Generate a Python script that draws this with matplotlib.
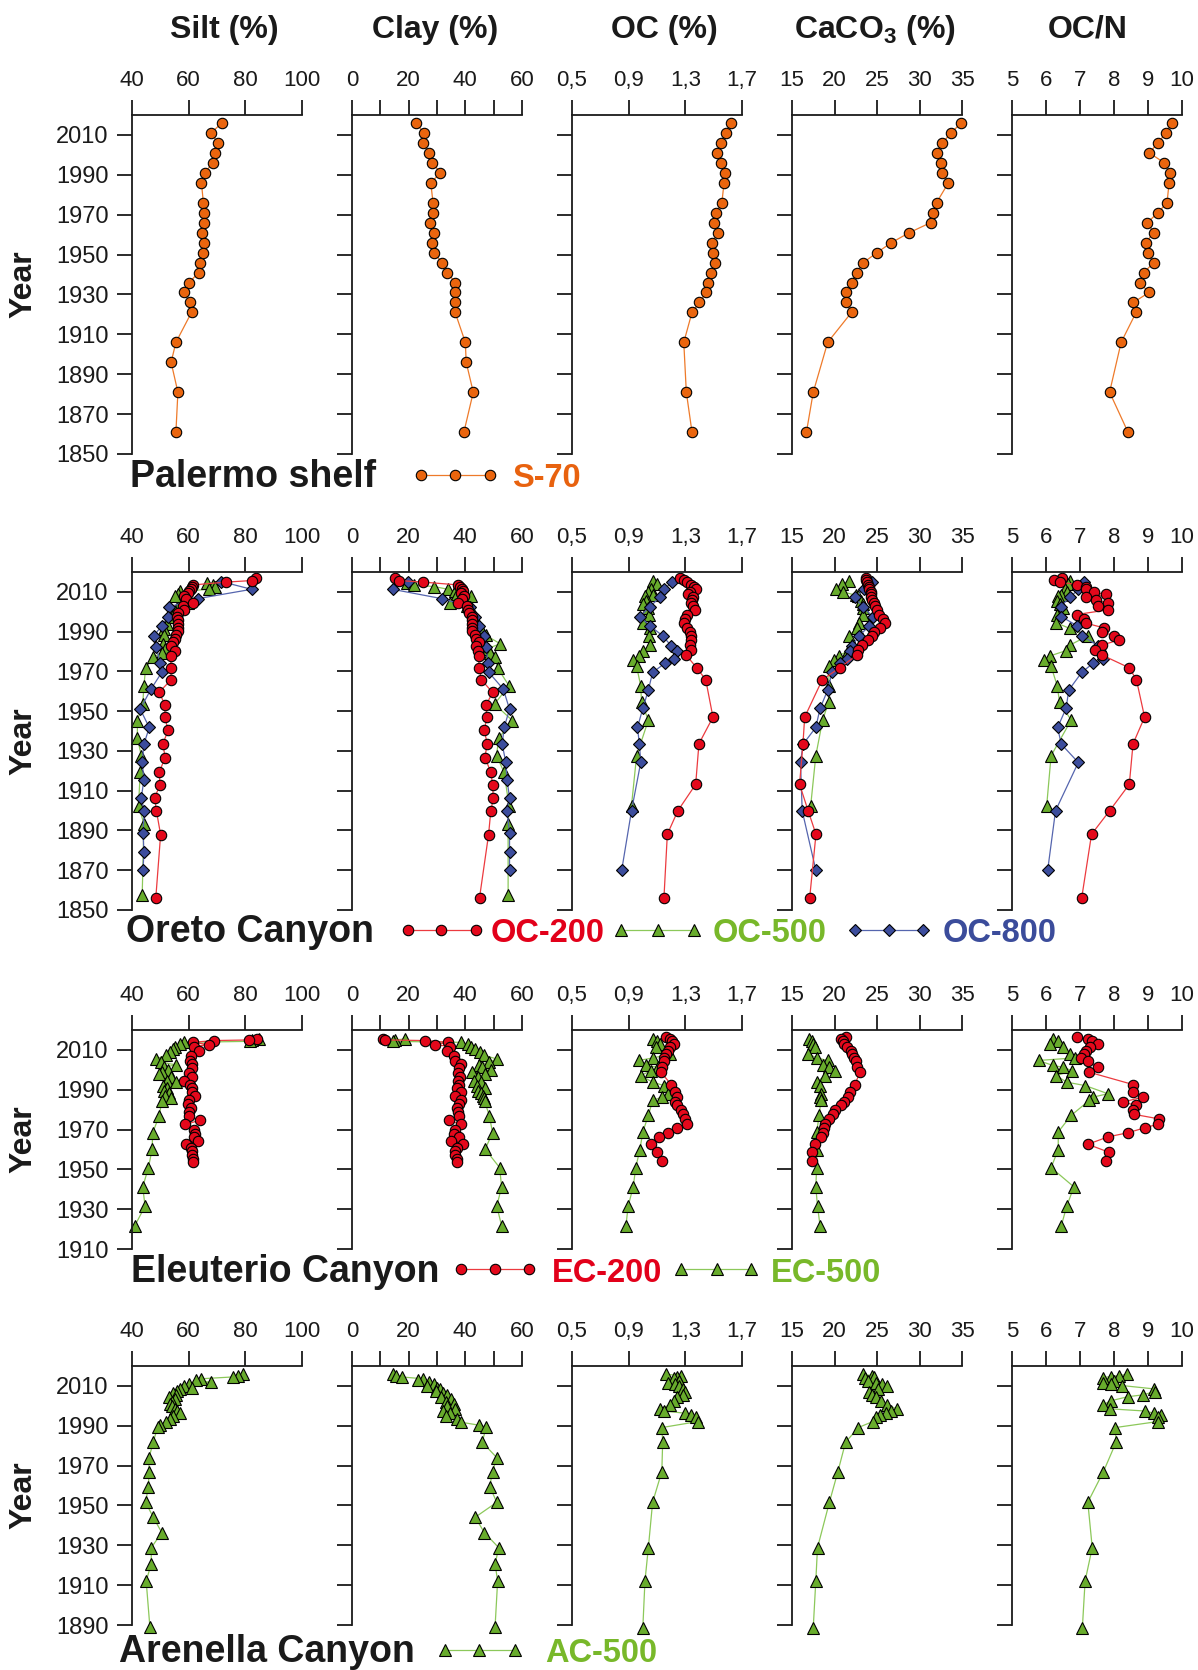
import matplotlib
matplotlib.use("Agg")
import matplotlib.pyplot as plt
from matplotlib.lines import Line2D

plt.rcParams['font.family'] = ['Liberation Sans', 'DejaVu Sans']

W, H = 1198, 1670

# Palermo shelf, S-70
s70_grain_years = [2016, 2011, 2006, 2001, 1996, 1991, 1986, 1976, 1971, 1966, 1961, 1956,
                   1951, 1946, 1941, 1936, 1931, 1926, 1921, 1906, 1896, 1881, 1861]
s70_silt = [71.7, 67.9, 70.3, 69.3, 68.6, 65.6, 64.5, 65.2, 65.3, 65.5, 64.7, 65.5,
            65.0, 64.1, 63.6, 60.1, 58.3, 60.5, 61.0, 55.5, 53.8, 56.2, 55.5]
s70_clay = [22.5, 25.5, 25.2, 27.3, 28.4, 31.2, 27.8, 28.6, 28.5, 27.4, 28.8, 28.4,
            28.9, 31.8, 33.7, 36.4, 36.4, 36.2, 36.4, 40.0, 40.3, 42.8, 39.5]
s70_geo_years = [2016, 2011, 2006, 2001, 1996, 1991, 1986, 1976, 1971, 1966, 1961,
                 1956, 1951, 1946, 1941, 1936, 1931, 1926, 1921, 1906, 1881, 1861]
s70_oc = [1.619, 1.590, 1.550, 1.527, 1.550, 1.579, 1.573, 1.558, 1.518, 1.501, 1.530,
          1.489, 1.498, 1.509, 1.480, 1.460, 1.448, 1.399, 1.347, 1.289, 1.307, 1.347]
s70_caco3 = [34.9, 33.7, 32.7, 32.0, 32.5, 32.7, 33.4, 32.0, 31.6, 31.3, 28.8,
             26.7, 25.0, 23.4, 22.6, 22.0, 21.3, 21.4, 22.0, 19.2, 17.5, 16.7]
s70_ocn = [9.71, 9.53, 9.29, 9.04, 9.48, 9.66, 9.62, 9.56, 9.29, 8.98, 9.17,
           8.93, 8.99, 9.17, 8.88, 8.75, 9.03, 8.57, 8.65, 8.21, 7.87, 8.41]

# Oreto Canyon, OC-200
oc200_grain_years = [2016.9, 2015.7, 2014.9, 2013.5, 2012.5, 2011.3, 2010.3, 2009.3, 2007.7, 2006.3,
                     2004.5, 2002.8, 2000.8, 1999.4, 1997.6, 1995.8, 1993.9, 1991.9, 1990.2, 1988.2,
                     1986.2, 1984.7, 1982.9, 1980.4, 1978.0, 1971.8, 1965.8, 1959.4, 1953.0, 1946.9,
                     1940.5, 1933.6, 1926.6, 1919.4, 1913.0, 1906.5, 1900.0, 1887.9, 1856.1]
oc200_silt = [83.9, 82.2, 73.1, 61.6, 61.1, 60.7, 60.2, 59.7, 58.5, 59.2,
              61.4, 57.9, 58.4, 56.4, 55.9, 56.1, 56.2, 56.2, 56.1, 55.6,
              55.0, 54.6, 53.6, 55.3, 53.7, 53.8, 53.8, 49.5, 51.8, 51.5,
              52.8, 50.9, 51.7, 49.6, 49.9, 48.0, 48.6, 50.1, 48.4]
oc200_clay = [15.0, 16.6, 25.2, 37.5, 38.1, 38.7, 39.2, 38.4, 39.7, 38.7,
              37.5, 40.6, 41.0, 41.4, 42.2, 42.5, 42.5, 42.2, 42.2, 43.5,
              43.9, 44.8, 43.9, 44.4, 44.8, 44.8, 45.7, 49.6, 47.3, 47.6,
              46.7, 47.7, 46.9, 49.0, 49.6, 49.9, 49.0, 48.2, 45.0]
oc200_geo_years = [2016.9, 2015.9, 2014.9, 2013.7, 2012.5, 2011.2, 2009.8, 2008.7, 2007.3, 2006.0,
                   2004.5, 2002.8, 2001.0, 1998.6, 1996.4, 1994.3, 1991.9, 1989.9, 1987.9, 1985.8,
                   1983.2, 1980.7, 1978.3, 1971.8, 1965.8, 1947.0, 1933.6, 1913.2, 1899.9, 1888.1,
                   1856.1]
oc200_oc = [1.262, 1.289, 1.313, 1.337, 1.361, 1.373, 1.331, 1.319, 1.355, 1.349,
            1.343, 1.355, 1.367, 1.313, 1.295, 1.289, 1.313, 1.334, 1.340, 1.343,
            1.334, 1.340, 1.304, 1.381, 1.444, 1.495, 1.396, 1.373, 1.247, 1.173,
            1.149]
oc200_caco3 = [23.76, 23.76, 23.81, 23.9, 24.0, 24.1, 24.26, 24.3, 24.35, 24.4,
               24.6, 24.75, 25.0, 25.25, 25.74, 25.94, 25.35, 24.6, 24.36, 23.9,
               23.27, 22.72, 22.67, 20.6, 18.56, 16.49, 16.29, 15.89, 16.9, 17.82,
               17.08]
oc200_ocn = [6.48, 6.24, 6.40, 6.90, 7.17, 7.17, 7.42, 7.77, 7.17, 7.46,
             7.83, 7.54, 7.83, 6.90, 7.12, 7.17, 7.70, 7.64, 8.01, 8.14,
             7.64, 7.44, 7.64, 8.45, 8.66, 8.90, 8.56, 8.45, 7.87, 7.34,
             7.05]

# Oreto Canyon, OC-500
oc500_grain_years = [2014.4, 2013.4, 2012.7, 2011.3, 2010.2, 2009.0, 2008.0, 2005.8, 2004.3, 2003.0,
                     2002.0, 2000.5, 1997.6, 1993.8, 1991.2, 1988.2, 1983.9, 1981.5, 1979.5, 1977.0,
                     1971.5, 1962.8, 1953.6, 1945.3, 1936.5, 1927.6, 1919.2, 1902.5, 1893.3, 1857.6]
oc500_silt = [66.6, 68.5, 69.2, 67.0, 56.9, 56.2, 55.3, 58.8, 59.7, 58.1,
              55.9, 55.2, 53.4, 52.4, 51.4, 51.2, 50.9, 51.7, 50.5, 47.4,
              44.8, 44.2, 43.8, 41.9, 41.9, 43.3, 42.9, 42.3, 44.2, 43.6]
oc500_clay = [19.4, 21.8, 28.9, 33.9, 36.4, 37.0, 42.0, 39.7, 34.7, 40.6,
              41.8, 42.4, 42.8, 44.4, 45.5, 47.2, 52.3, 47.9, 48.7, 50.5,
              51.5, 55.4, 50.3, 56.6, 51.8, 51.0, 53.7, 55.4, 55.1, 55.1]
oc500_geo_years = [2015.5, 2013.9, 2011.3, 2010.0, 2008.3, 2007.7, 2005.5, 2003.8, 2002.1, 1998.3,
                   1994.6, 1991.6, 1987.9, 1983.2, 1980.4, 1977.8, 1975.8, 1972.5, 1962.8, 1954.4,
                   1945.5, 1927.6, 1902.5]
oc500_oc = [1.069, 1.099, 1.060, 1.039, 1.075, 1.015, 1.021, 1.000, 1.039, 1.045,
            1.000, 1.051, 1.045, 1.051, 1.000, 0.970, 0.932, 0.956, 0.985, 0.991,
            1.039, 0.956, 0.920]
oc500_caco3 = [21.7, 20.9, 20.2, 21.0, 22.5, 22.8, 23.1, 23.4, 23.3, 23.3,
               22.9, 22.6, 21.7, 22.1, 21.6, 20.5, 19.9, 19.4, 19.3, 19.3,
               18.6, 17.8, 17.2]
oc500_ocn = [6.70, 6.65, 6.55, 6.61, 6.43, 6.36, 6.33, 6.40, 6.49, 6.33,
             6.28, 6.70, 7.23, 6.70, 6.58, 6.12, 5.93, 6.15, 6.33, 6.40,
             6.74, 6.15, 6.02]

# Oreto Canyon, OC-800
oc800_grain_years = [2015.2, 2011.3, 2006.6, 2002.5, 1997.6, 1992.9, 1987.9, 1982.4, 1974.2, 1969.5,
                     1961.1, 1951.0, 1941.8, 1933.4, 1924.2, 1915.5, 1906.5, 1899.9, 1888.7, 1879.3,
                     1870.1]
oc800_silt = [71.5, 82.2, 63.2, 53.1, 52.7, 50.5, 47.7, 48.6, 49.9, 50.5,
              46.7, 42.9, 46.1, 44.2, 43.6, 44.2, 43.3, 44.3, 43.9, 44.2,
              43.9]
oc800_clay = [19.8, 14.3, 31.7, 41.6, 43.5, 44.8, 46.7, 47.3, 48.0, 48.3,
              53.4, 55.6, 53.7, 53.0, 54.3, 54.7, 55.6, 54.7, 55.6, 55.6,
              55.6]
oc800_geo_years = [2015.0, 2011.3, 2007.2, 2002.6, 1997.6, 1992.9, 1987.9, 1982.9, 1980.4, 1976.2,
                   1974.2, 1969.5, 1960.6, 1951.4, 1941.8, 1933.4, 1924.2, 1899.9, 1870.1]
oc800_oc = [1.209, 1.149, 1.119, 1.051, 0.979, 1.051, 1.140, 1.200, 1.239, 1.218,
            1.158, 1.069, 1.039, 1.000, 0.962, 0.976, 0.985, 0.920, 0.851]
oc800_caco3 = [24.4, 23.5, 22.4, 23.3, 24.5, 24.1, 22.9, 22.1, 21.8, 21.5,
               20.6, 19.7, 19.2, 18.3, 17.8, 16.3, 16.0, 16.2, 17.8]
oc800_ocn = [7.11, 6.95, 6.70, 6.43, 6.45, 6.92, 7.05, 7.54, 7.60, 7.67,
             7.39, 7.05, 6.67, 6.59, 6.34, 6.45, 6.95, 6.28, 6.05]

# Eleuterio Canyon, EC-200
ec200_grain_years = [2015.5, 2015.0, 2014.7, 2013.8, 2012.7, 2011.7, 2009.7, 2006.7, 2004.3, 2002.7,
                     2000.8, 1998.6, 1996.3, 1994.6, 1992.6, 1990.9, 1988.7, 1986.6, 1984.6, 1982.9,
                     1980.9, 1978.7, 1976.6, 1974.6, 1972.6, 1969.9, 1967.9, 1966.3, 1964.3, 1962.6,
                     1960.9, 1959.3, 1957.1, 1955.4, 1953.8]
ec200_silt = [84.2, 81.3, 69.0, 61.4, 67.0, 62.0, 63.6, 60.9, 60.3, 61.3,
              61.1, 60.1, 61.3, 58.3, 60.4, 61.0, 61.3, 62.1, 60.1, 59.7,
              60.8, 60.1, 60.1, 63.9, 58.8, 61.9, 62.2, 61.9, 63.3, 59.0,
              60.7, 61.3, 61.3, 61.5, 61.5]
ec200_clay = [10.9, 11.8, 25.8, 34.0, 29.3, 34.5, 33.7, 35.9, 36.5, 38.4,
              37.8, 37.4, 38.2, 37.5, 37.8, 36.9, 38.4, 36.5, 38.4, 37.8,
              36.9, 37.5, 37.8, 34.4, 38.4, 36.5, 35.9, 37.8, 34.9, 39.1,
              37.2, 36.5, 36.2, 37.2, 36.9]
ec200_geo_years = [2016.3, 2015.5, 2014.3, 2013.0, 2011.3, 2009.7, 2008.0, 2006.0, 2004.3, 2001.3,
                   1998.8, 1992.6, 1988.8, 1986.3, 1983.8, 1982.1, 1979.6, 1977.6, 1975.4, 1972.6,
                   1970.9, 1968.4, 1966.3, 1962.6, 1958.6, 1954.1]
ec200_oc = [1.164, 1.194, 1.209, 1.218, 1.194, 1.179, 1.164, 1.149, 1.149, 1.134,
            1.128, 1.200, 1.230, 1.239, 1.230, 1.239, 1.268, 1.283, 1.298, 1.313,
            1.239, 1.179, 1.113, 1.060, 1.099, 1.134]
ec200_caco3 = [21.3, 20.8, 21.0, 21.1, 21.5, 21.9, 22.1, 22.3, 22.5, 22.6,
               23.0, 22.4, 21.8, 21.6, 21.1, 20.8, 20.1, 19.8, 19.3, 18.9,
               18.8, 18.6, 18.4, 17.7, 17.4, 17.3]
ec200_ocn = [6.92, 7.23, 7.36, 7.54, 7.30, 7.17, 7.11, 7.02, 7.23, 7.52,
             7.27, 8.56, 8.56, 8.85, 8.26, 8.66, 8.56, 8.60, 9.31, 9.28,
             8.91, 8.41, 7.82, 7.23, 7.85, 7.75]

# Eleuterio Canyon, EC-500
ec500_grain_years = [2015.5, 2015.0, 2014.3, 2013.8, 2013.0, 2011.7, 2010.3, 2008.8, 2007.2, 2005.5,
                     2003.8, 2002.5, 2001.3, 2000.0, 1998.8, 1997.7, 1996.3, 1994.6, 1993.8, 1992.1,
                     1991.0, 1989.6, 1988.3, 1987.1, 1986.0, 1984.3, 1976.8, 1968.4, 1960.1, 1950.9,
                     1941.2, 1931.5, 1921.7]
ec500_silt = [84.8, 82.2, 81.6, 58.3, 57.0, 55.2, 54.6, 53.3, 52.1, 48.4,
              50.3, 55.5, 51.4, 52.6, 50.5, 49.6, 53.9, 52.4, 55.6, 50.9,
              52.4, 51.4, 53.1, 51.8, 53.7, 50.5, 49.6, 47.3, 47.1, 45.8,
              43.8, 44.6, 41.0]
ec500_clay = [18.8, 15.0, 14.3, 38.3, 40.8, 42.1, 43.4, 45.3, 46.6, 51.1,
              48.3, 44.7, 46.0, 49.1, 42.5, 47.0, 44.4, 43.1, 45.7, 44.0,
              47.0, 44.4, 45.7, 46.3, 46.6, 46.8, 48.5, 49.6, 47.0, 52.1,
              52.8, 51.1, 52.8]
ec500_geo_years = [2015.5, 2014.3, 2013.0, 2011.3, 2008.0, 2006.0, 2004.7, 2002.2, 2001.3, 1999.6,
                   1997.1, 1993.8, 1992.1, 1988.0, 1986.3, 1984.6, 1977.1, 1968.8, 1959.9, 1950.9,
                   1941.2, 1931.5, 1921.7]
ec500_oc = [1.069, 1.099, 1.119, 1.090, 1.194, 1.075, 0.970, 1.021, 1.105, 1.060,
            0.985, 1.069, 1.149, 1.179, 1.134, 1.069, 1.039, 1.000, 0.979, 0.950,
            0.932, 0.896, 0.881]
ec500_caco3 = [17.0, 17.3, 17.5, 17.7, 16.9, 17.9, 19.2, 18.7, 19.4, 20.1,
               18.9, 17.9, 18.3, 18.4, 18.3, 18.4, 18.2, 17.9, 17.9, 17.9,
               17.8, 18.0, 18.3]
ec500_ocn = [6.20, 6.36, 6.12, 6.49, 6.70, 6.85, 5.78, 6.20, 6.49, 6.77,
             6.30, 6.61, 7.15, 7.82, 7.39, 7.27, 6.74, 6.36, 6.36, 6.15,
             6.82, 6.61, 6.45]

# Arenella Canyon, AC-500
ac500_grain_years = [2015.8, 2015.2, 2014.5, 2013.6, 2012.8, 2011.8, 2010.8, 2010.0, 2009.2, 2008.3,
                     2007.3, 2006.4, 2005.4, 2004.3, 2003.2, 2002.1, 2001.0, 1999.8, 1998.6, 1997.4,
                     1996.2, 1994.8, 1993.3, 1991.8, 1990.3, 1989.3, 1981.7, 1974.0, 1967.0, 1959.5,
                     1951.6, 1944.1, 1936.4, 1928.8, 1920.6, 1912.1, 1889.2]
ac500_silt = [79.0, 77.5, 75.5, 64.5, 62.5, 68.0, 60.0, 58.5, 61.0, 57.0,
              56.0, 54.5, 55.5, 53.0, 55.0, 54.0, 53.5, 54.0, 55.0, 56.0,
              57.0, 54.5, 53.5, 52.0, 50.0, 49.0, 47.5, 46.0, 46.0, 45.8,
              44.8, 47.5, 50.5, 46.8, 46.8, 45.0, 46.3]
ac500_clay = [14.3, 15.6, 17.5, 25.1, 23.2, 27.0, 28.9, 26.5, 30.0, 31.0,
              29.6, 32.0, 33.5, 31.5, 34.9, 33.0, 35.9, 33.5, 36.5, 32.0,
              34.6, 33.0, 37.0, 38.4, 44.8, 47.3, 46.0, 51.1, 49.6, 48.6,
              51.1, 43.5, 46.7, 51.8, 50.5, 51.4, 50.5]
ac500_geo_years = [2015.8, 2015.2, 2014.7, 2014.2, 2012.5, 2011.3, 2010.8, 2010.2, 2008.5, 2007.2,
                   2005.5, 2004.6, 2002.5, 2000.5, 1998.5, 1997.4, 1996.3, 1995.4, 1994.6, 1992.1,
                   1989.1, 1981.7, 1967.0, 1951.6, 1928.8, 1912.1, 1888.7]
ac500_oc = [1.164, 1.268, 1.239, 1.218, 1.253, 1.179, 1.224, 1.253, 1.283, 1.298,
            1.283, 1.239, 1.220, 1.194, 1.119, 1.149, 1.298, 1.343, 1.373, 1.387,
            1.134, 1.140, 1.134, 1.069, 1.039, 1.015, 1.000]
ac500_caco3 = [23.3, 24.4, 24.6, 23.6, 23.9, 24.9, 25.6, 26.2, 25.1, 24.1,
               24.4, 24.9, 25.5, 26.2, 27.3, 26.7, 26.1, 25.3, 24.9, 24.5,
               22.8, 21.3, 20.4, 19.4, 18.0, 17.8, 17.5]
ac500_ocn = [8.39, 8.14, 7.92, 7.67, 8.0, 7.67, 7.92, 8.23, 9.18, 9.2,
             8.85, 8.41, 7.9, 7.67, 7.89, 8.91, 9.18, 9.38, 9.3, 9.28,
             8.04, 8.06, 7.69, 7.23, 7.36, 7.15, 7.07]

# marker / line styles per core
ORANGE = dict(marker='o', ms=7.5, mfc='#EA650E', color='#EE7A2A', text='#E8620F')
RED = dict(marker='o', ms=7.5, mfc='#E4081B', color='#EC3A3F', text='#E2001A')
GREEN = dict(marker='^', ms=9, mfc='#68AC2C', color='#8CC85A', text='#78B82A')
BLUE = dict(marker='D', ms=6.5, mfc='#3C4D9D', color='#5565AE', text='#3B4C9B')


def core(grain_years, silt, clay, geo_years, oc, caco3, ocn, style):
    return dict(years=[grain_years, grain_years, geo_years, geo_years, geo_years],
                values=[silt, clay, oc, caco3, ocn], style=style)


# columns: title, limits, ticks, tick labels, title centre (px)
columns = [
    ('Silt (%)', (40, 100), [40, 60, 80, 100], None, 224),
    ('Clay (%)', (0, 60), [0, 10, 20, 30, 40, 50, 60], ['0', '', '20', '', '40', '', '60'], 435),
    ('OC (%)', (0.5, 1.7), [0.5, 0.9, 1.3, 1.7], ['0,5', '0,9', '1,3', '1,7'], 664),
    (r'CaCO$_\mathregular{3}$ (%)', (15, 35), [15, 20, 25, 30, 35], None, 875),
    ('OC/N', (5, 10), [5, 6, 7, 8, 9, 10], None, 1088),
]
col_left = [132, 352, 572, 792, 1012]
col_width = 170

rows = [
    dict(top=115, bottom=454, y0=1850, name='Palermo shelf', name_x=130, base=487, mid=475,
         cores=[core(s70_grain_years, s70_silt, s70_clay, s70_geo_years, s70_oc, s70_caco3, s70_ocn, ORANGE)],
         legend=[(ORANGE, [421, 455, 490], 'S-70', 512)]),
    dict(top=572, bottom=910, y0=1850, name='Oreto Canyon', name_x=126, base=942, mid=930,
         cores=[core(oc500_grain_years, oc500_silt, oc500_clay, oc500_geo_years, oc500_oc, oc500_caco3, oc500_ocn, GREEN),
                core(oc800_grain_years, oc800_silt, oc800_clay, oc800_geo_years, oc800_oc, oc800_caco3, oc800_ocn, BLUE),
                core(oc200_grain_years, oc200_silt, oc200_clay, oc200_geo_years, oc200_oc, oc200_caco3, oc200_ocn, RED)],
         legend=[(RED, [408, 441, 476], 'OC-200', 491),
                 (GREEN, [621, 658, 694], 'OC-500', 713),
                 (BLUE, [855, 889, 923], 'OC-800', 943)]),
    dict(top=1030, bottom=1249, y0=1910, name='Eleuterio Canyon', name_x=131, base=1282, mid=1269,
         cores=[core(ec500_grain_years, ec500_silt, ec500_clay, ec500_geo_years, ec500_oc, ec500_caco3, ec500_ocn, GREEN),
                core(ec200_grain_years, ec200_silt, ec200_clay, ec200_geo_years, ec200_oc, ec200_caco3, ec200_ocn, RED)],
         legend=[(RED, [461, 495, 529], 'EC-200', 552),
                 (GREEN, [681, 717, 751], 'EC-500', 771)]),
    dict(top=1366, bottom=1625, y0=1890, name='Arenella Canyon', name_x=119, base=1662, mid=1650,
         cores=[core(ac500_grain_years, ac500_silt, ac500_clay, ac500_geo_years, ac500_oc, ac500_caco3, ac500_ocn, GREEN)],
         legend=[(GREEN, [445, 479, 515], 'AC-500', 545)]),
]


def fx(px):
    return px / W


def fy(px):
    return 1 - px / H


fig = plt.figure(figsize=(W / 100, H / 100), dpi=100)

for r, row in enumerate(rows):
    for c, (title, lims, ticks, ticklabels, title_x) in enumerate(columns):
        ax = fig.add_axes([fx(col_left[c]), fy(row['bottom']), col_width / W,
                           (row['bottom'] - row['top']) / H])
        for cr in row['cores']:
            st = cr['style']
            ax.plot(cr['values'][c], cr['years'][c], '-', color=st['color'], lw=0.9,
                    marker=st['marker'], ms=st['ms'], mfc=st['mfc'], mec='black', mew=0.8,
                    clip_on=False)

        ax.set_xlim(*lims)
        ax.set_ylim(row['y0'], 2020)
        ax.set_xticks(ticks)
        if ticklabels:
            ax.set_xticklabels(ticklabels)
        ax.set_yticks(range(row['y0'], 2011, 20))
        if c > 0:
            ax.set_yticklabels([])

        ax.spines['right'].set_visible(False)
        ax.spines['bottom'].set_visible(False)
        for side in ('top', 'left'):
            ax.spines[side].set_linewidth(1.3)
            ax.spines[side].set_color('#1a1a1a')
        ax.xaxis.tick_top()
        ax.tick_params(axis='x', direction='out', length=11, width=1.3, pad=6,
                       labelsize=16, colors='#1a1a1a')
        ax.tick_params(axis='y', direction='out', length=11, width=1.3, pad=6,
                       labelsize=17, colors='#1a1a1a')
        ax.patch.set_alpha(0)

        if r == 0:
            fig.text(fx(title_x), fy(30), title, ha='center', va='center',
                     fontsize=23, fontweight='bold', color='#1a1a1a')

    # y axis label
    fig.text(fx(23), fy((row['top'] + row['bottom']) / 2), 'Year', rotation=90,
             ha='center', va='center', fontsize=23, fontweight='bold', color='#1a1a1a')

    # station name + core symbols underneath each row
    fig.text(fx(row['name_x']), fy(row['base']), row['name'], ha='left', va='baseline',
             fontsize=27, fontweight='bold', color='#1a1a1a')
    for st, xs, label, lx in row['legend']:
        fig.add_artist(Line2D([fx(x) for x in xs], [fy(row['mid'])] * 3,
                              transform=fig.transFigure, color=st['color'], lw=0.9,
                              marker=st['marker'], ms=st['ms'], mfc=st['mfc'],
                              mec='black', mew=0.8))
        fig.text(fx(lx), fy(row['base']), label, ha='left', va='baseline',
                 fontsize=23.5, fontweight='bold', color=st['text'])

fig.savefig('out.png', dpi=100, facecolor='white')
